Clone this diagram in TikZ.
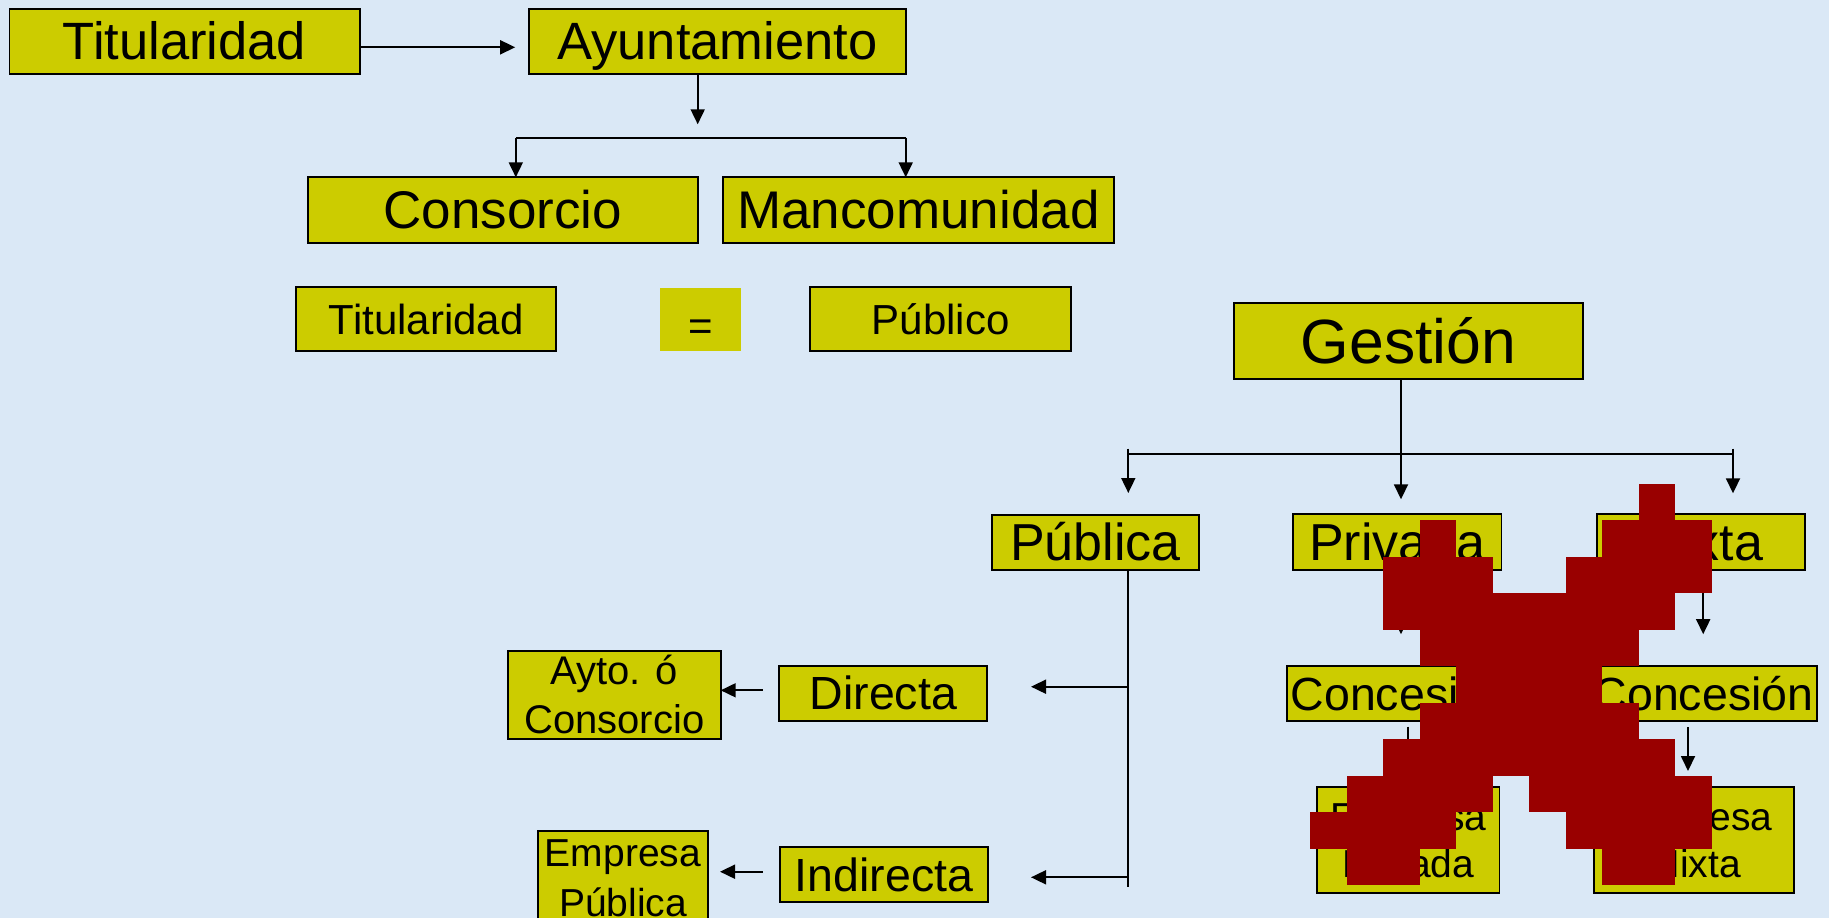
\documentclass[tikz,border=0pt]{standalone}
\usepackage{fontspec}
\setmainfont{Liberation Sans}
\usetikzlibrary{arrows.meta,calc}
\definecolor{bg}{RGB}{218,232,246}
\definecolor{boxy}{RGB}{204,204,0}
\definecolor{xred}{RGB}{153,0,0}
% optional opts, name, x1, y1, x2, y2, font size, text
\newcommand\bx[8][]{%
  \node[bxs,#1,minimum width={#5-#3},minimum height={#6-#4},
        text height={0.716*#7pt},text depth=0pt,
        font=\fontsize{#7}{#7}\selectfont] (#2) at ({(#3+#5)/2},{(#4+#6)/2}) {#8};}
\newcommand\xr[3]{\fill[xred] ({1310+36.5*#2},{483.5+36.5*#1}) rectangle ({1310+36.5*(#3+1)},{483.5+36.5*(#1+1)+0.4});}
\begin{document}
\begin{tikzpicture}[x=1pt,y=-1pt,
  bxs/.style={draw=black,line width=1.8pt,fill=boxy,inner sep=0pt,outer sep=0pt},
  arr/.style={-{Triangle[length=15pt,width=14pt]},line width=1.8pt},
  ln/.style={line width=1.8pt},
  tl/.style={anchor=base,inner sep=0pt}]
\useasboundingbox (0,0) rectangle (1829,918);
\fill[bg] (0,0) rectangle (1829,918);
\begin{scope}
\clip (0,0) rectangle (1829,918);
% boxes
\bx{tit1}{9.4}{8.7}{359.7}{73.7}{52.5}{Titularidad}
\bx{ayu}{528.7}{8.7}{906}{73.7}{52.5}{Ayuntamiento}
\bx{cons}{308}{177.3}{697.7}{242.7}{53}{Consorcio}
\bx{manc}{723.3}{177.3}{1113.7}{242.7}{53}{Mancomunidad}
\bx{tit2}{296.3}{287.3}{556.2}{350.7}{42}{Titularidad}
\bx[draw=none]{eq}{660}{288}{741}{350.7}{42}{\raisebox{-6pt}{=}}
\bx{pubo}{810.3}{287.3}{1071}{350.7}{42}{Público}
\bx{gest}{1234}{302.7}{1582.7}{378.7}{62.5}{Gestión}
\bx{publica}{991.7}{515}{1199.3}{569.7}{52}{Pública}
\bx{priv}{1293.3}{514.3}{1501.4}{570}{52}{Privada}
\bx{mixta}{1596.6}{514.3}{1805}{570}{52}{Mixta}
\bx{dir}{779.3}{665.7}{987.3}{720.7}{46.5}{Directa}
\bx{indir}{780}{847.3}{988.3}{902.3}{46.5}{Indirecta}
\bx{conc1}{1287}{665.7}{1514}{721}{46.5}{Concesión}
\bx{conc2}{1590}{665.7}{1817}{721.3}{46.5}{Concesión}
\bx{ayto}{508}{650.7}{720.7}{739}{40}{}
\bx{emppub}{538}{831.3}{708}{940}{39}{}
\bx{emppriv}{1317}{786.7}{1499.4}{892.7}{39}{}
\bx{empmix}{1594.2}{786.7}{1794.3}{892.7}{39}{}
% two-line texts
\node[tl,font=\fontsize{40}{40}\selectfont] (ayto1) at (614.3,684) {Ayto. ó};
\node[tl,font=\fontsize{40}{40}\selectfont] (ayto2) at (614.3,733.3) {Consorcio};
\node[tl,font=\fontsize{39}{39}\selectfont] (ep1) at (623,866) {Empresa};
\node[tl,font=\fontsize{39}{39}\selectfont] (ep2) at (623,916) {Pública};
\node[tl,font=\fontsize{39}{39}\selectfont] (epr1) at (1408.2,830) {Empresa};
\node[tl,font=\fontsize{39}{39}\selectfont] (epr2) at (1408.2,877) {Privada};
\node[tl,font=\fontsize{39}{39}\selectfont] (em1) at (1694.2,830) {Empresa};
\node[tl,font=\fontsize{39}{39}\selectfont] (em2) at (1694.2,877.3) {Mixta};
% connectors top
\coordinate (yA) at (0,47.3);
\draw[arr,shorten >=13.5pt] (tit1.east |- yA) -- (ayu.west |- yA);
\coordinate (j1) at (697.7,124.3);
\draw[arr] (ayu.south -| j1) -- (j1);
\coordinate (b1) at (515.8,137.7);
\coordinate (b2) at (905.7,137.7);
\draw[ln] (b1) -- (b2);
\draw[arr] (b1) -- (b1 |- cons.north);
\draw[arr] (b2) -- (b2 |- manc.north);
% Gestion
\coordinate (gx) at (1401,453.7);
\draw[arr,shorten >=15pt] (gest.south -| gx) -- (gx |- priv.north);
\coordinate (gl) at (1128.3,453.7);
\coordinate (gr) at (1733,453.7);
\draw[ln] (gl) -- (gr);
\draw[arr,shorten >=22pt] ($(gl)+(0,-5)$) -- (gl |- publica.north);
\draw[arr,shorten >=21pt] ($(gr)+(0,-5)$) -- (gr |- mixta.north);
% Publica
\coordinate (pv) at (1128,886.7);
\draw[ln] (publica.south -| pv) -- (pv);
\coordinate (pdir) at (1128,686.7);
\draw[arr,shorten >=43.7pt] (pdir) -- (pdir -| dir.east);
\coordinate (pind) at (1128,877.3);
\draw[arr,shorten >=42.7pt] (pind) -- (pind -| indir.east);
\coordinate (q1) at (0,690.3);
\draw[arr,shorten <=16.6pt] (dir.west |- q1) -- (ayto.east |- q1);
\coordinate (q2) at (0,871.7);
\draw[arr,shorten <=17.3pt,shorten >=12pt] (indir.west |- q2) -- (emppub.east |- q2);
% Privada / Mixta
\coordinate (px) at (1401,0);
\draw[arr,shorten <=5pt,shorten >=31.5pt] (priv.south -| px) -- (conc1.north -| px);
\coordinate (mx) at (1703.2,0);
\draw[arr,shorten <=5pt,shorten >=31.5pt] (mixta.south -| mx) -- (conc2.north -| mx);
\coordinate (cx1) at (1408,0);
\draw[arr,shorten <=5.7pt,shorten >=15.7pt] (conc1.south -| cx1) -- (emppriv.north -| cx1);
\coordinate (cx2) at (1688,0);
\draw[arr,shorten <=5.7pt,shorten >=15.7pt] (conc2.south -| cx2) -- (empmix.north -| cx2);
% red X
\xr{0}{9}{9}
\xr{1}{3}{3} \xr{1}{8}{10}
\xr{2}{2}{4} \xr{2}{7}{10}
\xr{3}{2}{9}
\xr{4}{3}{8}
\xr{5}{4}{7}
\xr{6}{3}{8}
\xr{7}{2}{9}
\xr{8}{1}{4} \xr{8}{6}{10}
\xr{9}{0}{3} \xr{9}{7}{10}
\xr{10}{1}{2} \xr{10}{8}{9}
\end{scope}
\end{tikzpicture}
\end{document}
